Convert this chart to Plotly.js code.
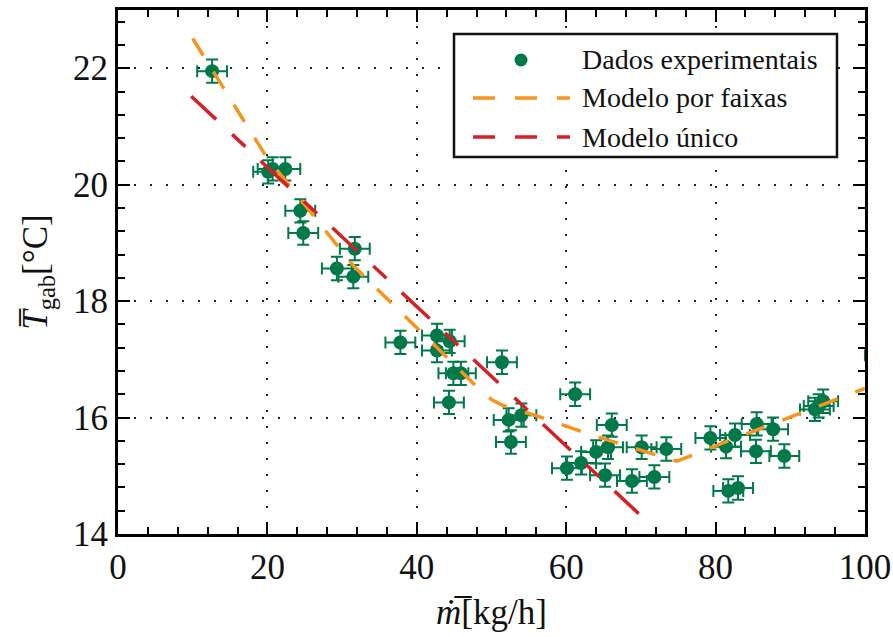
<!DOCTYPE html>
<html>
<head>
<meta charset="utf-8">
<script src="https://cdn.plot.ly/plotly-3.0.1.min.js"></script>
<style>html,body{margin:0;padding:0;background:#fff;}#chart{width:893px;height:637px;}</style>
</head>
<body>
<div id="chart"></div>
<script>
// Experimental data (mass flow kg/h, mean cabinet temperature °C)
const dataX = [12.6, 20.1, 20.7, 22.4, 24.4, 24.8, 31.7, 29.3, 31.5, 37.8, 42.7, 44.4, 42.7, 44.9, 45.9, 44.3,
  51.4, 52.3, 54.0, 52.6, 61.2, 60.1, 62.0, 64.0, 65.6, 66.1, 65.2, 68.8, 70.1, 71.8, 73.4,
  79.3, 81.4, 82.6, 81.7, 83.0, 85.5, 85.4, 87.7, 89.2, 93.3, 94.4, 93.8, 102.0];
const dataY = [21.95, 20.22, 20.27, 20.27, 19.55, 19.17, 18.90, 18.56, 18.42, 17.29, 17.41, 17.31, 17.15, 16.76, 16.76, 16.26,
  16.95, 15.96, 16.04, 15.58, 16.40, 15.13, 15.22, 15.41, 15.49, 15.87, 15.01, 14.91, 15.49, 14.98, 15.46,
  15.65, 15.50, 15.70, 14.74, 14.79, 15.89, 15.42, 15.80, 15.34, 16.14, 16.28, 16.20, 17.07];
const errX = 2.0;
const errY = 0.2;

// Piecewise model ("Modelo por faixas")
const faixasX = [10, 19.8, 31.5, 48.9, 50.1, 51.5, 56.5, 61.8, 66.9, 72.2, 74.8, 77.0, 79.5, 100];
const faixasY = [22.51, 20.49, 18.61, 16.42, 16.30, 16.21, 16.01, 15.77, 15.56, 15.36, 15.25, 15.36, 15.49, 16.50];

// Single model ("Modelo único")
const unicoX = [9.8, 69.7];
const unicoY = [21.52, 14.35];

const seriesNames = ["Dados experimentais", "Modelo por faixas", "Modelo único"];
const xTicks = [0, 20, 40, 60, 80, 100];
const yTicks = [14, 16, 18, 20, 22];

const GREEN = "#00794a", ORANGE = "#f7941d", RED = "#d42027";
const FONT = "Liberation Serif";

const traces = [
  {x: dataX, y: dataY, type: "scatter", mode: "markers", name: seriesNames[0],
   marker: {color: GREEN, size: 14},
   error_x: {type: "constant", value: errX, color: GREEN, thickness: 2, width: 6},
   error_y: {type: "constant", value: errY, color: GREEN, thickness: 2, width: 6}},
  {x: faixasX, y: faixasY, type: "scatter", mode: "lines", name: seriesNames[1],
   line: {color: ORANGE, width: 3.5, dash: "20px,19px"}},
  {x: unicoX, y: unicoY, type: "scatter", mode: "lines", name: seriesNames[2],
   line: {color: RED, width: 3.5, dash: "34px,22px,18px,21px,38px,21px,18px,21px"}}
];

// Manual legend geometry (paper coordinates)
const lgX0 = 0.4498, lgX1 = 0.9625, lgY0 = 0.7195, lgY1 = 0.9542;
const rowY = [0.9046, 0.8321, 0.7576];
const symX0 = 0.4752, symX1 = 0.6051, symXc = 0.5395, txtX = 0.6185;

const axisCommon = {
  showline: true, linecolor: "#000", linewidth: 3, mirror: "allticks",
  ticks: "inside", ticklen: 12, tickwidth: 2, tickcolor: "#000",
  showgrid: true, gridcolor: "#222", gridwidth: 2, griddash: "2px,14px",
  zeroline: false, ticklabeloverflow: "allow",
  tickfont: {family: FONT, size: 35, color: "#111"}
};

const layout = {
  width: 893, height: 637,
  margin: {l: 118, r: 28, t: 10, b: 103},
  paper_bgcolor: "#fff", plot_bgcolor: "#fff",
  showlegend: false,
  font: {family: FONT, color: "#111"},
  xaxis: Object.assign({}, axisCommon, {
    range: [0, 100], tickvals: xTicks, ticktext: xTicks.map(String),
    minor: {dtick: 4, ticks: "inside", ticklen: 7, tickwidth: 2, tickcolor: "#000", showgrid: false},
    title: {text: "<i>m\u0307\u0305</i>[kg/h]", font: {family: FONT, size: 35, color: "#111"}, standoff: 14}
  }),
  yaxis: Object.assign({}, axisCommon, {
    range: [14, 23], tickvals: yTicks, ticktext: yTicks.map(String),
    minor: {dtick: 0.4, ticks: "inside", ticklen: 7, tickwidth: 2, tickcolor: "#000", showgrid: false},
    title: {text: "<i>T\u0305</i><sub>gab</sub>[\u00B0C]", font: {family: FONT, size: 35, color: "#111"}, standoff: 15}
  }),
  shapes: [
    {type: "rect", xref: "paper", yref: "paper", x0: lgX0, x1: lgX1, y0: lgY0, y1: lgY1,
     line: {color: "#111", width: 2.5}, fillcolor: "#fff", layer: "above"},
    {type: "circle", xref: "paper", yref: "paper", xsizemode: "pixel", ysizemode: "pixel",
     xanchor: symXc, yanchor: rowY[0], x0: -6.5, x1: 6.5, y0: -6.5, y1: 6.5,
     fillcolor: GREEN, line: {color: GREEN, width: 0}, layer: "above"},
    {type: "line", xref: "paper", yref: "paper", x0: symX0, x1: symX1, y0: rowY[1], y1: rowY[1],
     line: {color: ORANGE, width: 3.5, dash: "22px,20px"}, layer: "above"},
    {type: "line", xref: "paper", yref: "paper", x0: symX0, x1: symX1, y0: rowY[2], y1: rowY[2],
     line: {color: RED, width: 3.5, dash: "22px,20px"}, layer: "above"}
  ],
  annotations: seriesNames.map((n, i) => ({
    text: n, xref: "paper", yref: "paper", x: txtX, y: rowY[i], xanchor: "left", yanchor: "middle",
    showarrow: false, font: {family: FONT, size: 28, color: "#111"}
  }))
};

Plotly.newPlot("chart", traces, layout, {displayModeBar: false, staticPlot: true});
</script>
</body>
</html>
